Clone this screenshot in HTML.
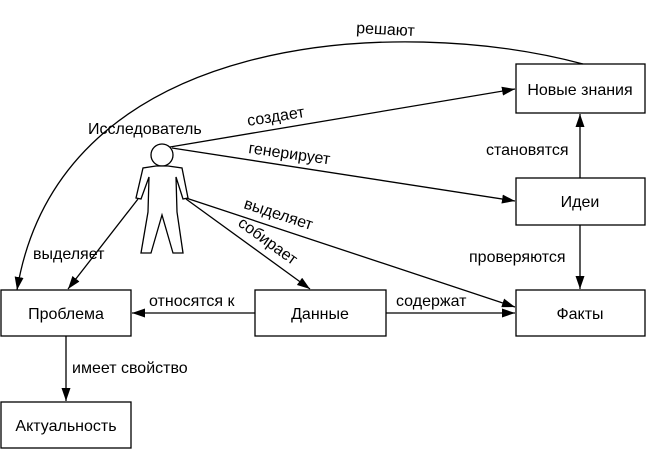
<!DOCTYPE html>
<html><head><meta charset="utf-8"><style>
body{margin:0;background:#fff}
svg{display:block}
text{font-family:"Liberation Sans",sans-serif;font-size:16px;fill:#000}
</style></head><body>
<svg width="646" height="450" viewBox="0 0 646 450" xmlns="http://www.w3.org/2000/svg">
<defs><marker id="a" markerWidth="13" markerHeight="9" refX="13" refY="4.5" orient="auto" markerUnits="userSpaceOnUse"><path d="M0,0 L13,4.5 L0,9 Z" fill="#000"/></marker></defs>
<g fill="#fff" stroke="#000" stroke-width="1.3">
<rect x="516" y="64" width="129" height="49"/>
<rect x="516" y="178" width="129" height="47"/>
<rect x="516" y="290" width="129" height="46"/>
<rect x="255" y="290" width="131" height="46"/>
<rect x="1" y="290" width="130" height="46"/>
<rect x="1" y="402" width="130" height="46"/>
</g>
<g fill="none" stroke="#000" stroke-width="1.3">
<path d="M583,64 C400,15 60,30 17,290" marker-end="url(#a)"/>
<line x1="170" y1="147" x2="515" y2="89" marker-end="url(#a)"/>
<line x1="172" y1="148" x2="515" y2="201" marker-end="url(#a)"/>
<line x1="186" y1="198" x2="515" y2="307" marker-end="url(#a)"/>
<line x1="186" y1="199" x2="310" y2="289" marker-end="url(#a)"/>
<line x1="138" y1="199" x2="68" y2="289" marker-end="url(#a)"/>
<line x1="580" y1="178" x2="580" y2="114" marker-end="url(#a)"/>
<line x1="580" y1="225" x2="580" y2="289" marker-end="url(#a)"/>
<line x1="255" y1="313" x2="132" y2="313" marker-end="url(#a)"/>
<line x1="386" y1="313" x2="515" y2="313" marker-end="url(#a)"/>
<line x1="66" y1="336" x2="66" y2="401" marker-end="url(#a)"/>
<circle cx="162" cy="155" r="11" fill="#fff"/>
<polygon fill="#fff" points="156,166 143,168 136,198 141,199 149,177 148,212 141,253 151,253 162,215 173,253 183,253 177,212 176,177 183,199 188,198 182,168 168,166"/>
</g>
<text x="580" y="95" text-anchor="middle">Новые знания</text>
<text x="580" y="207" text-anchor="middle">Идеи</text>
<text x="580" y="319" text-anchor="middle">Факты</text>
<text x="320" y="319" text-anchor="middle">Данные</text>
<text x="66" y="319" text-anchor="middle">Проблема</text>
<text x="66" y="431" text-anchor="middle">Актуальность</text>
<text x="88" y="134">Исследователь</text>
<text x="356" y="33" transform="rotate(3 356 33)">решают</text>
<text x="248" y="126" transform="rotate(-9 248 126)">создает</text>
<text x="248" y="153" transform="rotate(8 248 153)">генерирует</text>
<text x="243" y="208" transform="rotate(18 243 208)">выделяет</text>
<text x="237" y="225" transform="rotate(36 237 225)">собирает</text>
<text x="33" y="259">выделяет</text>
<text x="486" y="155">становятся</text>
<text x="469" y="262">проверяются</text>
<text x="149" y="306">относятся к</text>
<text x="396" y="306">содержат</text>
<text x="72" y="373">имеет свойство</text>
</svg>
</body></html>
